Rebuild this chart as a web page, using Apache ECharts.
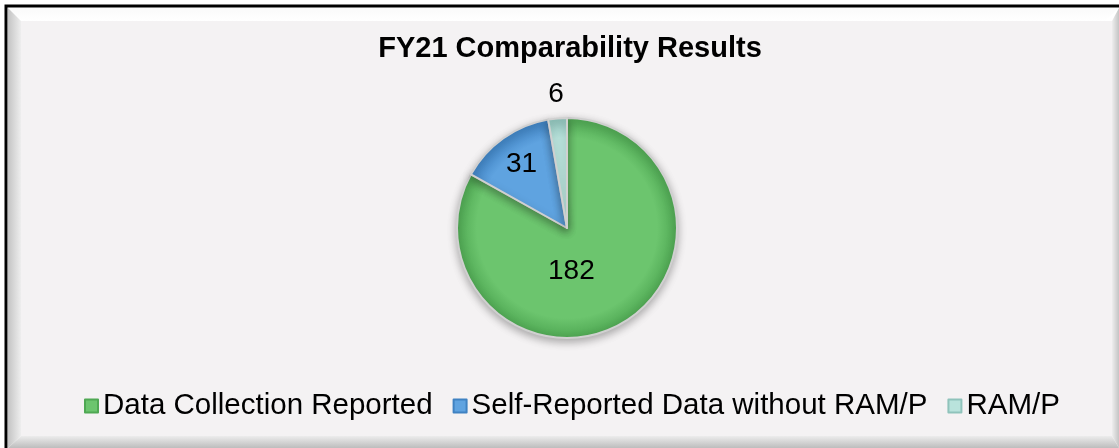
<!DOCTYPE html>
<html>
<head>
<meta charset="utf-8">
<script src="https://cdn.jsdelivr.net/npm/echarts@6/dist/echarts.min.js"></script>
<style>
  html, body { margin: 0; padding: 0; background: #ffffff; }
  #chart { width: 1119px; height: 448px; }
</style>
</head>
<body>
<div id="chart"></div>
<script>
const categories = ['Data Collection Reported', 'Self-Reported Data without RAM/P', 'RAM/P']
const values = [182, 31, 6]
const colors = ['#6cc56e', '#5fa3e0', '#b9e3dc']
const edgeColors = ['#4fa853', '#3f82c2', '#8fc3bb']
// label nudges to sit where the original placed them
const labelOffsets = [[-25, -7], [-12, -16], [0, 0]]

const cx = 567
const cy = 228
const radius = 110

const chart = echarts.init(document.getElementById('chart'))

const sliceFill = (i) => {
  return new echarts.graphic.RadialGradient(cx, cy, radius, [
    { offset: 0, color: colors[i] },
    { offset: 0.82, color: colors[i] },
    { offset: 1, color: edgeColors[i] }
  ], true)
}

const pieData = categories.map((name, i) => {
  return {
    name: name,
    value: values[i],
    itemStyle: { color: sliceFill(i) },
    label: i === 2
      ? { position: 'outside', offset: [12, -16] }
      : { position: 'inside', offset: labelOffsets[i] },
    labelLine: { show: false, length: 8, length2: 0 }
  }
})

const frame = [
  // outer black line + white base
  { type: 'rect', shape: { x: 6, y: 6, width: 1130, height: 460 }, style: { fill: '#ffffff', stroke: '#000', lineWidth: 3 }, z: -10 },
  // top bevel
  { type: 'polygon', shape: { points: [[8, 8], [1119, 8], [1105, 21], [21, 21]] },
    style: { fill: new echarts.graphic.LinearGradient(0, 0, 0, 1, [{ offset: 0, color: '#fafafa' }, { offset: 1, color: '#ffffff' }]) }, z: -9 },
  // left bevel
  { type: 'polygon', shape: { points: [[8, 8], [21, 21], [21, 436], [8, 448]] },
    style: { fill: new echarts.graphic.LinearGradient(0, 0, 1, 0, [{ offset: 0, color: '#c4c4c4' }, { offset: 1, color: '#eeeeee' }]) }, z: -9 },
  // right bevel
  { type: 'polygon', shape: { points: [[1119, 8], [1119, 448], [1112, 436], [1112, 21]] },
    style: { fill: new echarts.graphic.LinearGradient(0, 0, 1, 0, [{ offset: 0, color: '#eeeeee' }, { offset: 1, color: '#c4c4c4' }]) }, z: -9 },
  // bottom bevel
  { type: 'polygon', shape: { points: [[21, 436], [1112, 436], [1119, 448], [8, 448]] },
    style: { fill: new echarts.graphic.LinearGradient(0, 0, 0, 1, [{ offset: 0, color: '#ececec' }, { offset: 1, color: '#bdbdbd' }]) }, z: -9 },
  // face
  { type: 'rect', shape: { x: 21, y: 21, width: 1091, height: 415 }, style: { fill: '#f4f2f3' }, z: -8 }
]

const option = {
  animation: false,
  backgroundColor: '#ffffff',
  graphic: frame,
  title: {
    text: 'FY21 Comparability Results',
    left: 565,
    top: 29,
    textAlign: 'center',
    textStyle: {
      fontFamily: 'Liberation Sans',
      fontSize: 29,
      fontWeight: 'bold',
      color: '#000'
    }
  },
  legend: {
    bottom: 22,
    left: 79,
    icon: 'rect',
    itemWidth: 13,
    itemHeight: 13,
    itemGap: 20,
    textStyle: {
      fontFamily: 'Liberation Sans',
      fontSize: 29.5,
      color: '#000',
      padding: [0, 0, 0, 0]
    },
    data: categories.map((name, i) => {
      return {
        name: name,
        itemStyle: {
          color: colors[i],
          borderColor: edgeColors[i],
          borderWidth: 2
        }
      }
    })
  },
  series: [
    {
      type: 'pie',
      center: [cx, cy],
      radius: radius,
      startAngle: 90,
      clockwise: true,
      data: pieData,
      itemStyle: {
        borderColor: '#d0d0d0',
        borderWidth: 2,
        shadowBlur: 8,
        shadowColor: 'rgba(0,0,0,0.3)',
        shadowOffsetY: 3
      },
      label: {
        show: true,
        formatter: '{c}',
        fontFamily: 'Liberation Sans',
        fontSize: 28,
        color: '#000'
      },
      emphasis: { disabled: true }
    }
  ]
}

chart.setOption(option)
</script>
</body>
</html>
